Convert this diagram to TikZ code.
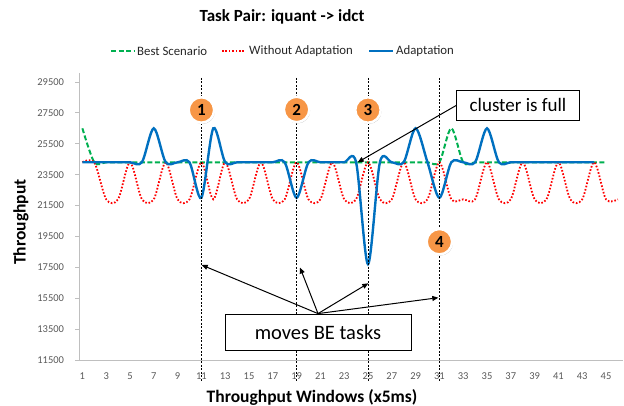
\documentclass[tikz,border=0pt]{standalone}
\usepackage{fontspec}
\setmainfont{Carlito}
\usetikzlibrary{arrows.meta,shadows}
\definecolor{bgreen}{HTML}{00B050}
\definecolor{wred}{HTML}{FF0000}
\definecolor{ablue}{HTML}{0070C0}
\definecolor{axgray}{HTML}{BFBFBF}
\definecolor{lblgray}{HTML}{595959}
\definecolor{numorange}{HTML}{F79646}
\definecolor{legtext}{HTML}{262626}
\begin{document}
\begin{tikzpicture}[x=1pt,y=1pt,
  greenline/.style={bgreen, line width=2pt, dash pattern=on 5pt off 2.5pt},
  redline/.style={wred, line width=1.8pt, dash pattern=on 1.6pt off 1.8pt},
  blueline/.style={ablue, line width=2.4pt},
  vline/.style={black, line width=0.6pt, dash pattern=on 2pt off 1.5pt},
  axisline/.style={axgray, line width=0.8pt},
  numcirc/.style={circle, fill=numorange, draw=white, line width=2.5pt, minimum size=25.5pt, inner sep=0pt,
    font=\fontsize{17}{17}\selectfont\bfseries,
    drop shadow={shadow xshift=0.8pt, shadow yshift=-1.2pt, opacity=0.3, fill=black}},
  callout/.style={draw=black, line width=0.8pt, fill=white, inner sep=0pt},
  pointer/.style={-{Triangle[length=6pt,width=5pt]}, line width=1pt},
  ytick/.style={anchor=east, text=lblgray, font=\fontsize{10.5}{12}\selectfont},
  xtick/.style={anchor=center, text=lblgray, font=\fontsize{10.5}{12}\selectfont},
  legtxt/.style={anchor=west, text=legtext, font=\fontsize{12.8}{14}\selectfont, inner sep=0pt},
  axtitle/.style={font=\fontsize{17.5}{20}\selectfont\bfseries},
]
\useasboundingbox (0,0) rectangle (624,406);

% title
\node[font=\fontsize{17}{20}\selectfont\bfseries] (title) at (282,389) {Task Pair: iquant -> idct};

% legend
\draw[greenline] (111,355) -- (135,355);
\node[legtxt] (lg1) at (137,355) {Best Scenario};
\draw[redline] (222,355) -- (245,355);
\node[legtxt] (lg2) at (249,355) {Without Adaptation};
\draw[blueline] (369,355) -- (393,355);
\node[legtxt] (lg3) at (396,355) {Adaptation};

% axes
\draw[axisline] (79,333) -- (79,46) -- (623,46);
\foreach \v in {11.5,13.5,...,29.5}{
  \pgfmathsetmacro{\yy}{-131.48+15.44*\v}
  \draw[axisline] (75,\yy) -- (79,\yy);
}
\foreach \lab/\v in {11500/11.5,13500/13.5,15500/15.5,17500/17.5,19500/19.5,21500/21.5,23500/23.5,25500/25.5,27500/27.5,29500/29.5}{
  \pgfmathsetmacro{\yy}{-131.48+15.44*\v}
  \node[ytick] (yl\lab) at (67.5,\yy) {\lab};
}
\foreach \n in {1,3,...,45}{
  \pgfmathsetmacro{\xx}{70.5+11.9*\n}
  \node[xtick] (xl\n) at (\xx,30) {\n};
}
\node[axtitle] (xtitle) at (312,9) {Throughput Windows (x5ms)};
\node[axtitle, rotate=90] (ytitle) at (21,184) {Throughput};

% data
\begin{scope}[shift={(70.5pt,-131.48pt)}, x=11.9pt, y=15.44pt]
\draw[greenline] plot[smooth, tension=0.5] coordinates {
 (1,26.5) (2,24.3) (3,24.3) (4,24.3) (5,24.3) (6,24.3) (7,24.3) (8,24.3) (9,24.3) (10,24.3)
 (11,24.3) (12,24.3) (13,24.3) (14,24.3) (15,24.3) (16,24.3) (17,24.3) (18,24.3) (19,24.3) (20,24.3)
 (21,24.3) (22,24.3) (23,24.3) (24,24.3) (25,24.3) (26,24.3) (27,24.3) (28,24.3) (29,24.3) (30,24.3)
 (31,24.3) (32,26.5) (33,24.3) (34,24.3) (35,24.3) (36,24.3) (37,24.3) (38,24.3) (39,24.3) (40,24.3)
 (41,24.3) (42,24.3) (43,24.3) (44,24.3) (45,24.3)};
\draw[redline] plot[smooth, tension=0.5] coordinates {
 (1,24.3) (2,24.3) (3,21.9) (4,21.9) (5,24.3) (6,21.9) (7,21.9) (8,24.3) (9,21.9) (10,21.9)
 (11,24.3) (12,21.9) (13,24.3) (14,21.9) (15,21.9) (16,24.3) (17,21.9) (18,21.9) (19,24.3) (20,21.9)
 (21,21.9) (22,24.3) (23,21.9) (24,21.9) (25,24.3) (26,21.9) (27,21.9) (28,24.3) (29,21.9) (30,21.9)
 (31,24.3) (32,21.9) (33,21.9) (34,21.9) (35,24.3) (36,21.9) (37,21.9) (38,24.3) (39,21.9) (40,21.9)
 (41,24.3) (42,21.9) (43,21.9) (44,24.3) (45,21.9) (46,21.9)};
\draw[blueline] plot[smooth, tension=0.5] coordinates {
 (1,24.3) (2,24.3) (3,24.3) (4,24.3) (5,24.3) (6,24.3) (7,26.5) (8,24.3) (9,24.3) (10,24.3)
 (11,22.0) (12,26.5) (13,24.3) (14,24.3) (15,24.3) (16,24.3) (17,24.3) (18,24.3) (19,22.0) (20,24.3)
 (21,24.3) (22,24.3) (23,24.3) (24,24.3) (25,17.7) (26,24.3) (27,24.3) (28,24.3) (29,26.5) (30,24.3)
 (31,22.0) (32,24.3) (33,24.3) (34,24.3) (35,26.5) (36,24.3) (37,24.3) (38,24.3) (39,24.3) (40,24.3)
 (41,24.3) (42,24.3) (43,24.3) (44,24.3)};
\end{scope}

% vertical markers
\foreach \n in {11,19,25,31}{
  \pgfmathsetmacro{\xx}{70.5+11.9*\n}
  \draw[vline] (\xx,328) -- (\xx,24);
}

% numbered circles
\node[numcirc] (c1) at (201.4,296) {1};
\node[numcirc] (c2) at (296.6,296.5) {2};
\node[numcirc] (c3) at (368,296) {3};
\node[numcirc] (c4) at (439.4,164.3) {4};

% callouts
\node[callout, minimum width=122.6pt, minimum height=29.3pt, font=\fontsize{19}{20}\selectfont] (full) at (518,300.6) {cluster is full};
\coordinate (fulltip) at (357.7,243.7);
\draw[pointer] (full.west) -- (fulltip);

\coordinate (t1) at (201.7,141);
\coordinate (t2) at (300,138.5);
\coordinate (t3) at (368.3,122.7);
\coordinate (t4) at (438.3,108.3);
\node[callout, minimum width=186pt, minimum height=36pt, font=\fontsize{20.5}{22}\selectfont] (moves) at (318,74) {moves BE tasks};
\foreach \t in {t1,t2,t3,t4}{
  \draw[pointer] (moves.north) -- (\t);
}
\end{tikzpicture}
\end{document}
